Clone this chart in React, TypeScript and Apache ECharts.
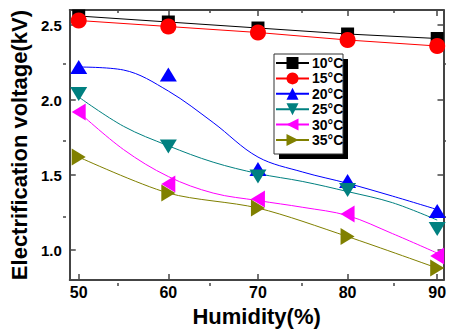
import React, { useEffect, useRef } from "react";
import * as echarts from "echarts";

const humidity = [50, 60, 70, 80, 90];
const v10 = [2.56, 2.52, 2.48, 2.44, 2.41];
const v15 = [2.53, 2.49, 2.45, 2.4, 2.36];
const v20 = [2.22, 2.17, 1.54, 1.46, 1.26];
const v25 = [2.04, 1.69, 1.49, 1.4, 1.14];
const v30 = [1.92, 1.44, 1.34, 1.24, 0.96];
const v35 = [1.62, 1.38, 1.28, 1.09, 0.88];

// fitted curves (B-spline lines)
const fitX = [50, 55, 60, 65, 70, 75, 80, 85, 90];
const fit20 = [2.22, 2.2, 2.06, 1.85, 1.62, 1.52, 1.445, 1.36, 1.27];
const fit25 = [2.02, 1.825, 1.695, 1.586, 1.51, 1.457, 1.39, 1.316, 1.2];
const fit30 = [1.92, 1.67, 1.49, 1.38, 1.33, 1.285, 1.23, 1.11, 0.98];

const xMajor = [50, 60, 70, 80, 90];
const xMinor = [55, 65, 75, 85];
const yMajor = [1.0, 1.5, 2.0, 2.5];
const yMinor = [1.25, 1.75, 2.25];

const FONT = '"Liberation Sans", Arial, sans-serif';
const AXIS_COLOR = "#444";
const TRI: [number, number] = [17, 14];

const pairs = (xs: number[], ys: number[]) => xs.map((x, i) => [x, ys[i]]);

export default function App() {
  const ref = useRef<HTMLDivElement>(null);
  useEffect(() => {
    if (!ref.current) return;
    const chart = echarts.init(ref.current, undefined, { renderer: "svg" });
    const grid = { left: 63, right: 3, top: 10, bottom: 46 };
    const xBase = { type: "value", min: 49, max: 90.7, splitLine: { show: false } } as any;
    const yBase = { type: "value", min: 0.8, max: 2.6, splitLine: { show: false } } as any;
    const line = { show: true, lineStyle: { color: AXIS_COLOR, width: 2 } };
    const noLine = { show: false };
    const tickStyle = { color: AXIS_COLOR, width: 1.5 };
    const lineSeries = (name: string, ys: number[], color: string, symbol: string, size: any, rotate = 0, smooth: any = false) => ({
      type: "line",
      name,
      data: pairs(humidity, ys),
      symbol,
      symbolSize: size,
      symbolRotate: rotate,
      smooth,
      color,
      itemStyle: { color },
      lineStyle: { color, width: 1 },
      xAxisIndex: 0,
      yAxisIndex: 0,
      z: 2,
    });
    const curveSeries = (name: string, ys: number[], color: string, symbol: string, size: any, rotate = 0) => ({
      type: "line",
      name,
      data: pairs(fitX, ys),
      symbol,
      symbolSize: size,
      symbolRotate: rotate,
      showSymbol: false,
      smooth: 0.35,
      color,
      itemStyle: { color },
      lineStyle: { color, width: 1 },
      xAxisIndex: 0,
      yAxisIndex: 0,
      z: 2,
    });
    const markerSeries = (name: string, ys: number[], color: string, symbol: string, size: any, rotate = 0) => ({
      type: "scatter",
      name,
      data: pairs(humidity, ys),
      symbol,
      symbolSize: size,
      symbolRotate: rotate,
      itemStyle: { color, opacity: 1 },
      xAxisIndex: 0,
      yAxisIndex: 0,
      z: 3,
    });
    chart.setOption({
      animation: false,
      backgroundColor: "#fff",
      textStyle: { fontFamily: FONT },
      grid: [grid, grid],
      xAxis: [
        {
          ...xBase,
          gridIndex: 0,
          position: "bottom",
          axisLine: line,
          axisTick: { show: true, inside: true, length: 6, customValues: xMajor, lineStyle: tickStyle },
          axisLabel: { customValues: xMajor, color: "#000", fontWeight: "bold", fontSize: 16, fontFamily: FONT, margin: 4 },
          name: "Humidity(%)",
          nameLocation: "middle",
          nameGap: 21,
          nameTextStyle: { color: "#000", fontWeight: "bold", fontSize: 22, fontFamily: FONT, verticalAlign: "top" },
        },
        {
          ...xBase,
          gridIndex: 0,
          position: "top",
          axisLine: line,
          axisTick: { show: true, inside: true, length: 6, customValues: xMajor, lineStyle: tickStyle },
          axisLabel: { show: false },
        },
        {
          ...xBase,
          gridIndex: 1,
          position: "bottom",
          axisLine: noLine,
          axisTick: { show: true, inside: true, length: 3, customValues: xMinor, lineStyle: tickStyle },
          axisLabel: { show: false },
        },
        {
          ...xBase,
          gridIndex: 1,
          position: "top",
          axisLine: noLine,
          axisTick: { show: true, inside: true, length: 3, customValues: xMinor, lineStyle: tickStyle },
          axisLabel: { show: false },
        },
      ],
      yAxis: [
        {
          ...yBase,
          gridIndex: 0,
          position: "left",
          axisLine: line,
          axisTick: { show: true, inside: true, length: 6, customValues: yMajor, lineStyle: tickStyle },
          axisLabel: {
            customValues: yMajor,
            formatter: (v: number) => v.toFixed(1),
            color: "#000",
            fontWeight: "bold",
            fontSize: 15,
            fontFamily: FONT,
            margin: 8,
          },
          name: "Electrification voltage(kV)",
          nameLocation: "middle",
          nameGap: 26,
          nameRotate: 90,
          nameTextStyle: { color: "#000", fontWeight: "bold", fontSize: 22, fontFamily: FONT },
        },
        {
          ...yBase,
          gridIndex: 0,
          position: "right",
          axisLine: line,
          axisTick: { show: true, inside: true, length: 6, customValues: yMajor, lineStyle: tickStyle },
          axisLabel: { show: false },
        },
        {
          ...yBase,
          gridIndex: 1,
          position: "left",
          axisLine: noLine,
          axisTick: { show: true, inside: true, length: 3, customValues: yMinor, lineStyle: tickStyle },
          axisLabel: { show: false },
        },
        {
          ...yBase,
          gridIndex: 1,
          position: "right",
          axisLine: noLine,
          axisTick: { show: true, inside: true, length: 3, customValues: yMinor, lineStyle: tickStyle },
          axisLabel: { show: false },
        },
      ],
      legend: {
        orient: "vertical",
        left: 275,
        top: 56,
        padding: 0,
        itemWidth: 33,
        itemHeight: 15,
        itemGap: 1.4,
        data: ["10°C", "15°C", "20°C", "25°C", "30°C", "35°C"],
        textStyle: { color: "#000", fontWeight: "bold", fontSize: 14, fontFamily: FONT, padding: [0, 0, 0, -2] },
        z: 6,
      },
      graphic: [
        { type: "rect", shape: { x: 279, y: 59, width: 69, height: 100 }, style: { fill: "#000" }, z: 4 },
        { type: "rect", shape: { x: 274, y: 54, width: 69, height: 100 }, style: { fill: "#fff", stroke: "#333", lineWidth: 1 }, z: 5 },
      ],
      series: [
        lineSeries("10°C", v10, "#000000", "rect", 13),
        lineSeries("15°C", v15, "#ff0000", "circle", 16),
        curveSeries("20°C", fit20, "#0000ff", "triangle", TRI),
        curveSeries("25°C", fit25, "#008080", "triangle", TRI, 180),
        curveSeries("30°C", fit30, "#ff00ff", "triangle", TRI, 90),
        lineSeries("35°C", v35, "#808000", "triangle", TRI, -90, 0.3),
        markerSeries("20°C", v20, "#0000ff", "triangle", TRI),
        markerSeries("25°C", v25, "#008080", "triangle", TRI, 180),
        markerSeries("30°C", v30, "#ff00ff", "triangle", TRI, 90),
      ],
    } as any);
    return () => chart.dispose();
  }, []);
  return <div ref={ref} style={{ width: 449, height: 332, position: "absolute", left: 0, top: 0 }} />;
}
